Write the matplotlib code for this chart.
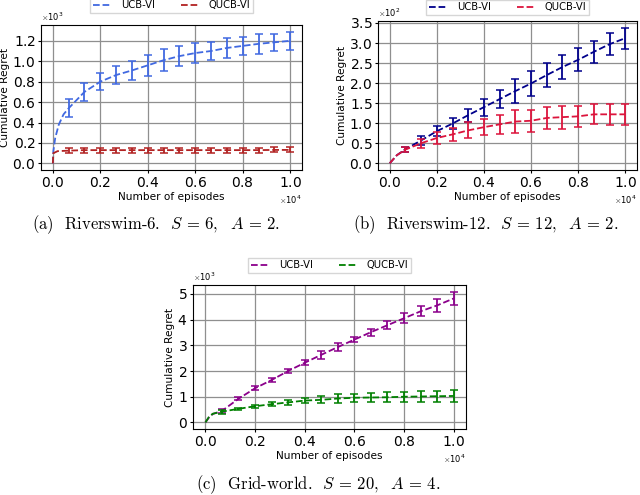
import numpy as np
import matplotlib.pyplot as plt
from matplotlib.ticker import MultipleLocator

plt.rcParams['mathtext.fontset'] = 'cm'
plt.rcParams['axes.formatter.use_mathtext'] = True

# episodes where the error bars sit
episodes = [667, 1333, 2000, 2667, 3333, 4000, 4667, 5333, 6000,
            6667, 7333, 8000, 8667, 9333, 10000]

# (a) Riverswim-6
a_ucb_early_x = [0, 20, 100, 250, 450]
a_ucb_early_y = [0, 120, 250, 380, 480]
a_ucb = [540, 700, 800, 865, 910, 960, 1010, 1050, 1080, 1100, 1130, 1150, 1170, 1185, 1200]
a_ucb_err = [90, 90, 85, 85, 95, 100, 105, 100, 95, 90, 95, 90, 95, 85, 90]
a_qucb_early_x = [0, 20, 200]
a_qucb_early_y = [0, 100, 120]
a_qucb = [125, 130, 130, 130, 130, 130, 130, 130, 130, 130, 130, 130, 130, 132, 132]
a_qucb_err = [25] * 15

# (b) Riverswim-12
b_ucb_early_x = [0, 300]
b_ucb_early_y = [0, 20]
b_ucb = [35, 57, 80, 99, 120, 140, 160, 180, 199, 220, 240, 258, 278, 297, 312]
b_ucb_err = [6, 11, 12, 14, 16, 21, 23, 29, 30, 30, 30, 29, 28, 27, 26]
b_qucb_early_x = [0, 300]
b_qucb_early_y = [0, 20]
b_qucb = [34, 50, 63, 72, 82, 90, 97, 104, 106, 113, 115, 117, 122, 122, 122]
b_qucb_err = [6, 11, 15, 16, 20, 20, 24, 28, 27, 28, 29, 27, 25, 26, 26]

# (c) Grid-world
c_ucb_early_x = [0, 150, 300]
c_ucb_early_y = [0, 200, 330]
c_ucb = [450, 920, 1330, 1650, 2000, 2320, 2630, 2930, 3220, 3510, 3780, 4050, 4320, 4550, 4820]
c_ucb_err = [90, 60, 70, 60, 80, 100, 150, 140, 100, 130, 160, 200, 200, 250, 270]
c_qucb_early_x = [0, 150, 300]
c_qucb_early_y = [0, 230, 340]
c_qucb = [420, 530, 630, 710, 780, 850, 880, 930, 960, 970, 980, 1000, 1010, 1020, 1030]
c_qucb_err = [75, 50, 60, 85, 100, 100, 130, 160, 160, 170, 185, 200, 210, 220, 235]

labels = ['UCB-VI', 'QUCB-VI']


def panel(fig, rect, series, colors, ystep, leg_y, caption, cap_xy):
    ax = fig.add_axes(rect)
    for (ex, ey, y, err), c, lab in zip(series, colors, labels):
        ax.plot(ex + episodes, ey + y, '--', color=c, lw=1.3, label=lab)
        ax.errorbar(episodes, y, yerr=err, fmt='none', ecolor=c,
                    elinewidth=1.3, capsize=3, capthick=1.1)
    ax.yaxis.set_major_locator(MultipleLocator(ystep))
    ax.xaxis.set_major_locator(MultipleLocator(2000))
    ax.grid(True, color='#8f8f8f', lw=0.9)
    ax.ticklabel_format(style='sci', scilimits=(0, 0), useMathText=True)
    ax.tick_params(labelsize=10, length=2, pad=2)
    ax.xaxis.get_offset_text().set_fontsize(6)
    ax.yaxis.get_offset_text().set_fontsize(6)
    ax.set_xlabel('Number of episodes', fontsize=7.6, labelpad=1.5)
    ax.set_ylabel('Cumulative Regret', fontsize=7.6, labelpad=1.5)
    ax.legend(loc='lower center', bbox_to_anchor=(0.5, leg_y), ncol=2,
              fontsize=7.2, fancybox=False, handlelength=1.8,
              columnspacing=2.6, borderpad=0.25, handletextpad=1.0)
    fig.text(cap_xy[0] / 640, 1 - cap_xy[1] / 495, caption, ha='center',
             va='center', fontsize=12, family='cmr10')
    return ax


fig = plt.figure(figsize=(6.4, 4.95), dpi=100)

panel(fig, [41/640, 325/495, 261/640, 145/495],
      [(a_ucb_early_x, a_ucb_early_y, a_ucb, a_ucb_err),
       (a_qucb_early_x, a_qucb_early_y, a_qucb, a_qucb_err)],
      ['royalblue', '#b22222'], 200, 1.05,
      r'(a)  Riverswim-6.  $S\,=\,6,\ \ A\,=\,2$.', (156, 225))

panel(fig, [378/640, 325/495, 259/640, 149/495],
      [(b_ucb_early_x, b_ucb_early_y, b_ucb, b_ucb_err),
       (b_qucb_early_x, b_qucb_early_y, b_qucb, b_qucb_err)],
      ['darkblue', 'crimson'], 50, 1.01,
      r'(b)  Riverswim-12.  $S\,=\,12,\ \ A\,=\,2$.', (486, 225))

panel(fig, [193/640, 66/495, 273/640, 144/495],
      [(c_ucb_early_x, c_ucb_early_y, c_ucb, c_ucb_err),
       (c_qucb_early_x, c_qucb_early_y, c_qucb, c_qucb_err)],
      ['darkmagenta', 'green'], 1000, 1.05,
      r'(c)  Grid-world.  $S\,=\,20,\ \ A\,=\,4$.', (318, 485))

fig.savefig('out.png', dpi=100)
